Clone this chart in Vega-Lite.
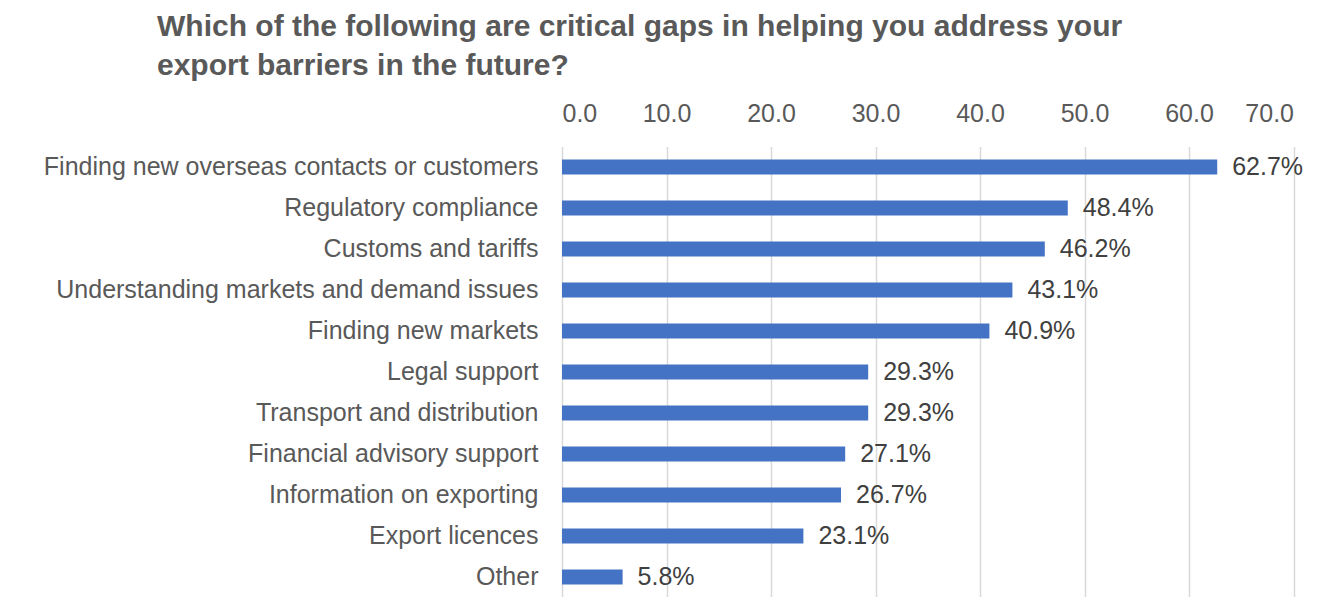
{
  "$schema": "https://vega.github.io/schema/vega-lite/v6.json",
  "autosize": {"type": "none"},
  "width": 731.5,
  "height": 451,
  "padding": {"left": 562, "top": 146.5, "right": 37.5, "bottom": 0},
  "background": "white",
  "config": {"view": {"stroke": null}, "font": "Liberation Sans"},
  "title": {
    "text": ["Which of the following are critical gaps in helping you address your", "export barriers in the future?"],
    "anchor": "start",
    "frame": "group",
    "dx": -405,
    "fontSize": 30,
    "fontWeight": "bold",
    "color": "#595959",
    "font": "Liberation Sans",
    "lineHeight": 39,
    "offset": 21
  },
  "data": {
    "values": [
      {"category": "Finding new overseas contacts or customers", "value": 62.7, "label": "62.7%"},
      {"category": "Regulatory compliance", "value": 48.4, "label": "48.4%"},
      {"category": "Customs and tariffs", "value": 46.2, "label": "46.2%"},
      {"category": "Understanding markets and demand issues", "value": 43.1, "label": "43.1%"},
      {"category": "Finding new markets", "value": 40.9, "label": "40.9%"},
      {"category": "Legal support", "value": 29.3, "label": "29.3%"},
      {"category": "Transport and distribution", "value": 29.3, "label": "29.3%"},
      {"category": "Financial advisory support", "value": 27.1, "label": "27.1%"},
      {"category": "Information on exporting", "value": 26.7, "label": "26.7%"},
      {"category": "Export licences", "value": 23.1, "label": "23.1%"},
      {"category": "Other\u2002", "value": 5.8, "label": "5.8%"}
    ]
  },
  "encoding": {
    "y": {
      "field": "category",
      "type": "nominal",
      "sort": null,
      "scale": {"paddingInner": 0.63, "paddingOuter": 0.315},
      "axis": {
        "title": null,
        "domain": false,
        "ticks": false,
        "labelFontSize": 25,
        "labelColor": "#595959",
        "labelFont": "Liberation Sans",
        "labelPadding": 24,
        "labelLimit": 700
      }
    },
    "x": {
      "field": "value",
      "type": "quantitative",
      "scale": {"domain": [0, 70], "nice": false},
      "axis": {
        "orient": "top",
        "title": null,
        "values": [0, 10, 20, 30, 40, 50, 60, 70],
        "format": ".1f",
        "domain": false,
        "ticks": false,
        "grid": true,
        "gridColor": "#d9d9d9",
        "gridWidth": 1.5,
        "labelFontSize": 25,
        "labelColor": "#595959",
        "labelFont": "Liberation Sans",
        "labelPadding": 20
      }
    }
  },
  "layer": [
    {"mark": {"type": "bar", "color": "#4472C4"}},
    {
      "mark": {"type": "text", "align": "left", "baseline": "middle", "dx": 15, "fontSize": 25, "color": "#404040", "font": "Liberation Sans"},
      "encoding": {"text": {"field": "label", "type": "nominal"}}
    }
  ]
}
